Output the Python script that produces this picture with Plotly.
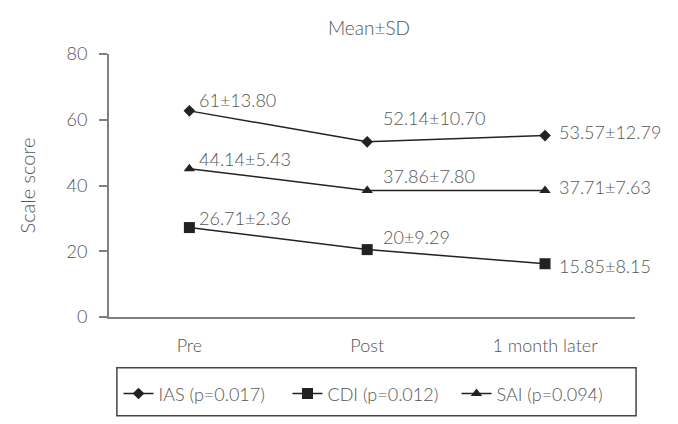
import plotly.graph_objects as go

categories = ["Pre", "Post", "1 month later"]
ias_values = [62.7, 53.3, 55.2]
cdi_values = [27.2, 20.5, 16.2]
sai_values = [45.1, 38.5, 38.5]
ias_labels = ["61\u00b113.80", "52.14\u00b110.70", "53.57\u00b112.79"]
cdi_labels = ["26.71\u00b12.36", "20\u00b19.29", "15.85\u00b18.15"]
sai_labels = ["44.14\u00b15.43", "37.86\u00b17.80", "37.71\u00b17.63"]
series_names = ["IAS (p=0.017)", "CDI (p=0.012)", "SAI (p=0.094)"]
y_ticks = [0, 20, 40, 60, 80]

FONT = "Lato"
TXT = "#555555"
AX = "#808080"
LINE = "#222222"

fig = go.Figure()
symbols = ["diamond", "square", "triangle-up"]
sizes = [9, 11, 10]
for name, vals, sym, sz in zip(series_names, [ias_values, cdi_values, sai_values], symbols, sizes):
    fig.add_trace(go.Scatter(
        x=categories, y=vals, mode="lines+markers", name=name,
        line=dict(color=LINE, width=1.5),
        marker=dict(symbol=sym, size=sz, color=LINE),
    ))

# label offsets (pixels) per point index, per series
shifts = {
    "ias": [(8, 11), (14, 24), (12, 4)],
    "cdi": [(8, 10), (14, 13), (12, -2)],
    "sai": [(8, 10), (14, 14), (12, 3)],
}
for key, vals, labs in [("ias", ias_values, ias_labels), ("cdi", cdi_values, cdi_labels), ("sai", sai_values, sai_labels)]:
    for i, (c, v, t) in enumerate(zip(categories, vals, labs)):
        xs, ys = shifts[key][i]
        fig.add_annotation(x=c, y=v, text=t, showarrow=False, xanchor="left", yanchor="middle",
                           xshift=xs, yshift=ys, font=dict(family=FONT, size=18, color=TXT, weight=300))

fig.update_layout(
    width=678, height=424,
    margin=dict(l=109, r=43, t=54, b=107),
    paper_bgcolor="white", plot_bgcolor="white",
    font=dict(family=FONT, size=17, color=TXT, weight=300),
    title=dict(text="Mean\u00b1SD", x=369 / 678, xanchor="center", y=1 - 28 / 424, yanchor="middle",
               font=dict(family=FONT, size=19, color=TXT, weight=300)),
    showlegend=True,
    legend=dict(orientation="h", x=0.5, xanchor="center", y=-0.292, yanchor="middle",
                font=dict(family=FONT, size=18, color=TXT, weight=300), bgcolor="rgba(0,0,0,0)",
                itemwidth=30, tracegroupgap=0, entrywidth=124, entrywidthmode="pixels"),
    xaxis=dict(type="category", range=[-0.452, 2.506], showgrid=False, zeroline=False,
               showline=True, linecolor=AX, linewidth=2, ticks="", ticklabelstandoff=11,
               tickfont=dict(family=FONT, size=18, color=TXT, weight=300)),
    yaxis=dict(range=[0, 80], tickvals=y_ticks, showgrid=False, zeroline=False,
               showline=True, linecolor=AX, linewidth=2, ticks="outside", ticklen=8,
               tickcolor=AX, tickwidth=2, ticklabelstandoff=8,
               tickfont=dict(family=FONT, size=18, color=TXT, weight=300),
               title=dict(text="Scale score", standoff=26, font=dict(family=FONT, size=20, color=TXT, weight=300))),
    shapes=[dict(type="rect", xref="paper", yref="paper", x0=0.015, x1=1.002, y0=-0.375, y1=-0.193,
                 line=dict(color="#444444", width=1.5), fillcolor="rgba(0,0,0,0)")],
)

fig.write_html("out.html")
